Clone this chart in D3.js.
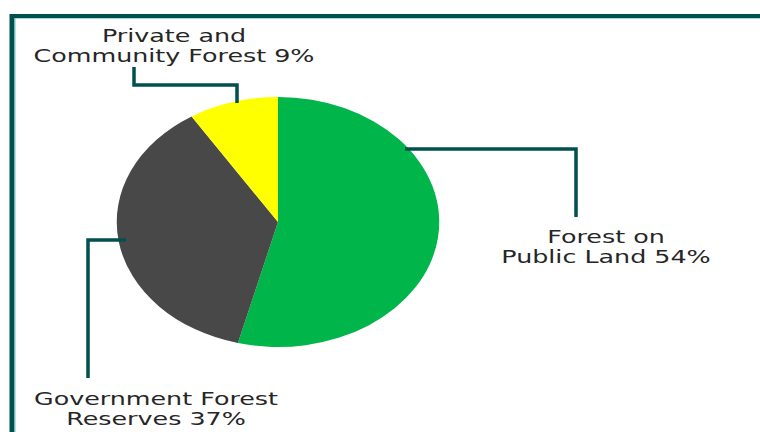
<!DOCTYPE html>
<html>
<head>
<meta charset="utf-8">
<script src="https://cdn.jsdelivr.net/npm/d3@7"></script>
<style>
  body { margin: 0; background: #fff; }
  svg { display: block; }
</style>
</head>
<body>
<div id="chart"></div>
<script>
// data
const categories = ["Forest on Public Land", "Government Forest Reserves", "Private and Community Forest"];
const shares = [54, 37, 9];
const colors = ["#00b54a", "#484848", "#ffff00"];
const labelLines = [
  ["Forest on", "Public Land 54%"],
  ["Government Forest", "Reserves 37%"],
  ["Private and", "Community Forest 9%"]
];

const width = 760, height = 432;
const cx = 278, cy = 222, ry = 125, sx = 1.29;
const textSx = 1.45;

const svg = d3.select("#chart").append("svg")
  .attr("width", width)
  .attr("height", height);

// frame
svg.append("line").attr("x1", 10).attr("x2", width).attr("y1", 16).attr("y2", 16)
  .attr("stroke", "#00504f").attr("stroke-width", 4);
svg.append("line").attr("x1", 12).attr("x2", 12).attr("y1", 14).attr("y2", height)
  .attr("stroke", "#00504f").attr("stroke-width", 5);
svg.append("line").attr("x1", 15).attr("x2", width).attr("y1", 18.5).attr("y2", 18.5)
  .attr("stroke", "#9fdcd8").attr("stroke-width", 1);
svg.append("line").attr("x1", 15).attr("x2", 15).attr("y1", 18).attr("y2", height)
  .attr("stroke", "#6fc8c2").attr("stroke-width", 1);

const data = categories.map((c, i) => ({ name: c, value: shares[i], color: colors[i], lines: labelLines[i] }));

const pie = d3.pie().sort(null).value(d => d.value);
const arc = d3.arc().innerRadius(0).outerRadius(ry);

const g = svg.append("g").attr("transform", `translate(${cx},${cy}) scale(${sx},1)`);
g.selectAll("path")
  .data(pie(data))
  .join("path")
  .attr("d", arc)
  .attr("fill", d => d.data.color);

// leader lines (layout)
const leaders = [
  [[405, 149], [576, 149], [576, 217]],
  [[126, 240], [88, 240], [88, 378]],
  [[237, 103], [237, 85], [134, 85], [134, 67]]
];
const teal = "#00504f";
svg.selectAll("polyline.leader")
  .data(leaders)
  .join("polyline")
  .attr("class", "leader")
  .attr("points", d => d.map(p => p.join(",")).join(" "))
  .attr("fill", "none")
  .attr("stroke", teal)
  .attr("stroke-width", 3.5);

// labels
const labelPos = [
  { x: 606, y: 243 },
  { x: 156, y: 405 },
  { x: 174, y: 42 }
];
data.forEach((d, i) => {
  d.lines.forEach((t, j) => {
    svg.append("text")
      .attr("transform", `translate(${labelPos[i].x},${labelPos[i].y + j * 20}) scale(${textSx},1)`)
      .attr("text-anchor", "middle")
      .attr("font-family", "DejaVu Sans, Verdana, sans-serif")
      .attr("font-size", 17.5)
      .attr("fill", "#262626")
      .text(t);
  });
});
</script>
</body>
</html>
